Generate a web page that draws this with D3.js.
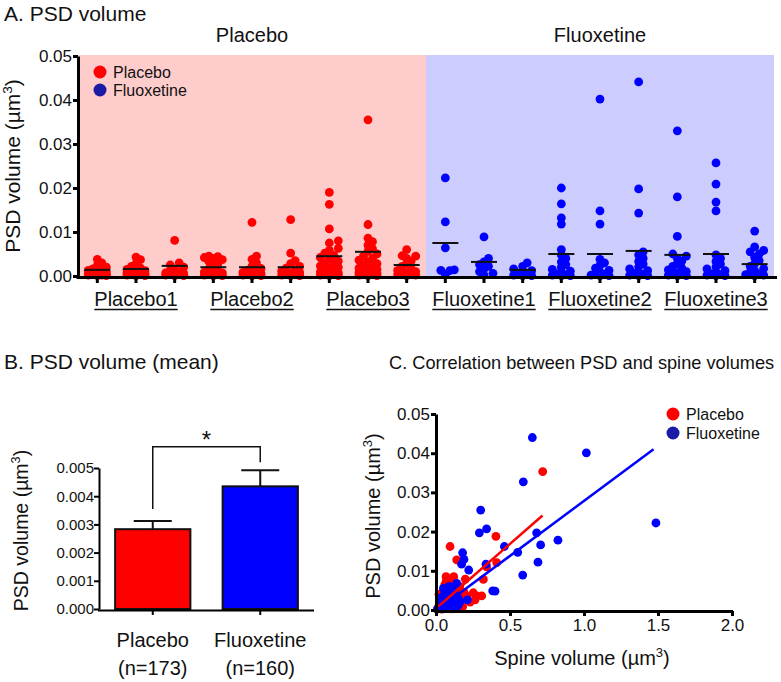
<!DOCTYPE html>
<html>
<head>
<meta charset="utf-8">
<script src="https://cdn.jsdelivr.net/npm/d3@7"></script>
<style>
body{margin:0;background:#fff;}
text{font-family:"Liberation Sans",Arial,Helvetica,sans-serif;fill:#111;}
</style>
</head>
<body>
<svg id="chart" width="781" height="682"></svg>
<script>
// ---------- DATA ----------
const columnNames = ["P1a","P1b","P1c","P2a","P2b","P2c","P3a","P3b","P3c",
                     "F1a","F1b","F1c","F2a","F2b","F2c","F3a","F3b","F3c"];
const groupLabels = ["Placebo1","Placebo2","Placebo3","Fluoxetine1","Fluoxetine2","Fluoxetine3"];
const treatmentLabels = ["Placebo","Fluoxetine"];
const yTicksA = [0,0.01,0.02,0.03,0.04,0.05];
const columnMeans = [0.0014,0.0016,0.0023,0.0020,0.0020,0.0020,0.0045,0.0055,0.0025,
                     0.0075,0.0032,0.0014,0.0050,0.0050,0.0057,0.0048,0.0050,0.0027];
const columnValues = [
 [0.0038,0.0030,0.0024,0.0020,0.0016,0.0013,0.0011,0.0009,0.0008,0.0006,0.0005,0.0004,0.0003,0.0002,0.0002,0.0001,0.0001,0.0003,0.0006,0.0012],
 [0.0043,0.0037,0.0028,0.0022,0.0018,0.0015,0.0012,0.0010,0.0008,0.0006,0.0005,0.0004,0.0003,0.0002,0.0001,0.0001,0.0004,0.0007],
 [0.0081,0.0030,0.0025,0.0020,0.0015,0.0012,0.0009,0.0007,0.0005,0.0004,0.0003,0.0002,0.0001,0.0001,0.0006],
 [0.0045,0.0044,0.0042,0.0040,0.0037,0.0033,0.0028,0.0022,0.0016,0.0012,0.0009,0.0007,0.0005,0.0003,0.0002,0.0001,0.0004,0.0001],
 [0.0122,0.0045,0.0038,0.0030,0.0022,0.0017,0.0013,0.0010,0.0008,0.0006,0.0004,0.0003,0.0002,0.0001,0.0001,0.0005],
 [0.0128,0.0052,0.0035,0.0028,0.0022,0.0018,0.0014,0.0011,0.0008,0.0006,0.0004,0.0003,0.0002,0.0001,0.0001],
 [0.0190,0.0163,0.0107,0.0080,0.0075,0.0063,0.0058,0.0052,0.0047,0.0042,0.0038,0.0034,0.0030,0.0027,0.0023,0.0020,0.0017,0.0014,0.0011,0.0009,0.0007,0.0005,0.0003,0.0002,0.0001,0.0001,0.0004],
 [0.0355,0.0117,0.0086,0.0078,0.0070,0.0062,0.0056,0.0050,0.0045,0.0040,0.0036,0.0032,0.0028,0.0024,0.0021,0.0018,0.0015,0.0012,0.0010,0.0008,0.0006,0.0004,0.0003,0.0002,0.0001,0.0001,0.0005,0.0009],
 [0.0060,0.0046,0.0045,0.0040,0.0034,0.0028,0.0022,0.0017,0.0013,0.0010,0.0007,0.0005,0.0003,0.0002,0.0001,0.0004],
 [0.0223,0.0123,0.0064,0.0014,0.0013,0.0012,0.0004],
 [0.0089,0.0040,0.0032,0.0026,0.0022,0.0016,0.0010,0.0006,0.0002],
 [0.0030,0.0022,0.0016,0.0012,0.0008,0.0005,0.0003,0.0002,0.0001,0.0001],
 [0.0200,0.0164,0.0132,0.0118,0.0060,0.0048,0.0040,0.0032,0.0026,0.0020,0.0015,0.0011,0.0008,0.0005,0.0003,0.0002,0.0001,0.0001],
 [0.0402,0.0148,0.0118,0.0038,0.0030,0.0024,0.0018,0.0013,0.0009,0.0006,0.0004,0.0002,0.0001,0.0001],
 [0.0441,0.0198,0.0143,0.0055,0.0048,0.0040,0.0033,0.0027,0.0021,0.0016,0.0012,0.0009,0.0006,0.0004,0.0002,0.0001,0.0001],
 [0.0330,0.0180,0.0090,0.0050,0.0045,0.0040,0.0034,0.0028,0.0022,0.0018,0.0014,0.0010,0.0007,0.0005,0.0003,0.0002,0.0001,0.0001],
 [0.0257,0.0209,0.0168,0.0148,0.0048,0.0040,0.0033,0.0027,0.0021,0.0016,0.0012,0.0008,0.0005,0.0003,0.0002,0.0001,0.0001],
 [0.0102,0.0066,0.0058,0.0055,0.0050,0.0042,0.0035,0.0028,0.0022,0.0017,0.0012,0.0008,0.0005,0.0003,0.0002,0.0001]
];

// Panel B
const barMeans = [0.00283, 0.00435];
const barSEM = [0.00029, 0.00057];
const barN = ["(n=173)", "(n=160)"];
const yTicksB = [0,0.001,0.002,0.003,0.004,0.005];
const bracketTop = 0.00575, bracketLeftEnd = 0.00355, bracketRightEnd = 0.0052;

// Panel C
const xTicksC = [0,0.5,1.0,1.5,2.0];
const yTicksC = [0,0.01,0.02,0.03,0.04,0.05];
const placeboSpine = [0.721,0.405,0.095,0.140,0.342,0.410,0.320,0.198,0.068,0.275,0.309,0.252,0.264,0.162,0.117,
 0.02,0.03,0.04,0.05,0.06,0.07,0.08,0.09,0.10,0.11,0.12,0.13,0.15,0.17,0.19,0.21,0.23,0.05,0.08,0.10,0.03,0.06,0.14,0.18,0.01,0.04,0.07,0.11,0.02,0.09,0.16,0.12,0.07];
const placeboPSD = [0.0353,0.0188,0.0162,0.0128,0.0110,0.0121,0.0078,0.0079,0.0085,0.0036,0.0036,0.0044,0.0026,0.0051,0.0068,
 0.001,0.002,0.0035,0.0045,0.003,0.005,0.006,0.004,0.0075,0.0055,0.003,0.002,0.0035,0.0025,0.0045,0.0035,0.002,0.0015,0.001,0.002,0.0005,0.0065,0.0012,0.0008,0.0002,0.0002,0.0005,0.0003,0.004,0.0028,0.006,0.0085,0.0075];
const fluoxSpine = [0.651,1.016,0.590,1.486,0.302,0.293,0.342,0.680,0.707,0.824,0.552,0.462,0.689,0.586,0.338,0.221,0.180,0.189,0.173,0.383,0.399,0.212,0.14,
 0.02,0.03,0.04,0.05,0.06,0.07,0.08,0.09,0.10,0.11,0.12,0.13,0.14,0.15,0.06,0.08,0.10,0.12,0.04,0.05,0.07,0.09,0.03,0.11,0.16,0.01,0.13,0.15,0.05,0.08];
const fluoxPSD = [0.0440,0.0401,0.0327,0.0222,0.0255,0.0197,0.0207,0.0197,0.0166,0.0178,0.0147,0.0162,0.0122,0.0089,0.0117,0.0102,0.0146,0.0129,0.0117,0.0049,0.0048,0.0026,0.0068,
 0.0005,0.0015,0.0025,0.0035,0.0045,0.003,0.002,0.0012,0.004,0.0055,0.0025,0.0015,0.001,0.003,0.0008,0.005,0.0008,0.0005,0.0004,0.002,0.0045,0.006,0.003,0.0018,0.002,0.0003,0.004,0.0012,0.0055,0.0035];
const placeboFit = [[0.01,0.0007],[0.72,0.0241]];
const fluoxFit = [[0.0,-0.0002],[1.47,0.0410]];

// ---------- COLOURS ----------
const RED = "#ff0000", BLUE = "#0000ff", NAVY = "#1a1aa6";
const FS_TITLE = 21, FS_LABEL = 20, FS_TICK_A = 17, FS_TICK_B = 15, FS_TICK_C = 17;

const svg = d3.select("#chart");
function sup(sel, base) {
  sel.html("");
  sel.append("tspan").text(base + " (µm");
  sel.append("tspan").attr("dy", -8).attr("font-size", "0.65em").text("3");
  sel.append("tspan").attr("dy", 8).text(")");
}

// ================= PANEL A =================
const xA = d3.scaleBand().domain(columnNames).range([78, 774]);
const yA = d3.scaleLinear().domain([0, 0.05]).range([276, 56]);

svg.append("rect").attr("x", xA("P1a")).attr("y", yA(0.05)-1)
  .attr("width", xA("F1a") - xA("P1a")).attr("height", yA(0) - yA(0.05) + 1).attr("fill", "#ffcccc");
svg.append("rect").attr("x", xA("F1a")).attr("y", yA(0.05)-1)
  .attr("width", 774 - xA("F1a")).attr("height", yA(0) - yA(0.05) + 1).attr("fill", "#ccccff");

svg.append("text").attr("x", 4).attr("y", 21).attr("font-size", FS_TITLE).text("A. PSD volume");
svg.append("text").attr("x", (xA("P1a") + xA("F1a")) / 2).attr("y", 42).attr("text-anchor", "middle").attr("font-size", FS_LABEL).text("Placebo");
svg.append("text").attr("x", (xA("F1a") + 774) / 2).attr("y", 42).attr("text-anchor", "middle").attr("font-size", FS_LABEL).text("Fluoxetine");

// beeswarm
function swarm(vals, cx, yScale, r, step, maxOff) {
  const placed = [];
  const sorted = vals.slice().sort((a, b) => a - b);
  sorted.forEach(v => {
    const py = yScale(v);
    let best = 0;
    const cands = [0];
    for (let k = 1; k * step <= maxOff; k++) { cands.push(k * step, -k * step); }
    let ok = false;
    for (const off of cands) {
      if (placed.every(p => Math.hypot(p.x - (cx + off), p.y - py) >= r * 1.2)) { best = off; ok = true; break; }
    }
    if (!ok) {
      let bestD = -1;
      for (const off of cands) {
        const d = d3.min(placed, p => Math.hypot(p.x - (cx + off), p.y - py));
        if (d > bestD) { bestD = d; best = off; }
      }
    }
    placed.push({ x: cx + best, y: py });
  });
  return placed;
}

const gA = svg.append("g");
columnNames.forEach((c, i) => {
  const cx = xA(c) + xA.bandwidth() / 2;
  const pts = swarm(columnValues[i], cx, yA, 4.3, 4.5, 10);
  gA.selectAll(null).data(pts).enter().append("circle")
    .attr("cx", d => d.x).attr("cy", d => d.y).attr("r", 4.4)
    .attr("fill", i < 9 ? RED : BLUE);
  gA.append("line").attr("x1", cx - 13).attr("x2", cx + 13)
    .attr("y1", yA(columnMeans[i])).attr("y2", yA(columnMeans[i]))
    .attr("stroke", "#111").attr("stroke-width", 2);
});

const axA = svg.append("g").attr("transform", "translate(78,0)")
  .call(d3.axisLeft(yA).tickValues(yTicksA).tickFormat(d3.format(".2f")).tickSize(5).tickSizeOuter(0));
axA.select(".domain").attr("stroke-width", 3);
axA.selectAll(".tick line").attr("stroke-width", 3);
axA.selectAll(".tick text").attr("font-size", FS_TICK_A).attr("x", -6).attr("font-family", "Liberation Sans, Arial, sans-serif");

const axAx = svg.append("g").attr("transform", "translate(0,277)")
  .call(d3.axisBottom(xA).tickSize(6).tickSizeOuter(0).tickFormat(""));
axAx.select(".domain").attr("stroke-width", 3).attr("d", "M76.5,0.5H777");
axAx.selectAll(".tick line").attr("stroke-width", 3);

svg.append("text").attr("transform", `translate(20,${(yA(0) + yA(0.05)) / 2}) rotate(-90)`)
  .attr("text-anchor", "middle").attr("font-size", FS_TITLE).call(sup, "PSD volume");

groupLabels.forEach((g, i) => {
  const cx = xA(columnNames[i * 3 + 1]) + xA.bandwidth() / 2;
  const t = svg.append("text").attr("x", cx).attr("y", 306).attr("text-anchor", "middle").attr("font-size", FS_LABEL).text(g);
  const w = t.node().getComputedTextLength();
  svg.append("line").attr("x1", cx - w / 2).attr("x2", cx + w / 2).attr("y1", 309.5).attr("y2", 309.5)
    .attr("stroke", "#111").attr("stroke-width", 1.4);
});

// legend A
const legA = svg.append("g");
[["Placebo", RED], ["Fluoxetine", NAVY]].forEach((d, i) => {
  legA.append("circle").attr("cx", 100).attr("cy", 72 + i * 18).attr("r", 6.5).attr("fill", d[1]);
  legA.append("text").attr("x", 113).attr("y", 77.5 + i * 18).attr("font-size", 16).text(d[0]);
});

// ================= PANEL B =================
svg.append("text").attr("x", 4).attr("y", 369).attr("font-size", FS_TITLE).text("B. PSD volume (mean)");
const xB = d3.scaleBand().domain(treatmentLabels).range([99, 314]).paddingInner(0.3).paddingOuter(0.15);
const yB = d3.scaleLinear().domain([0, 0.005]).range([609, 468]);

svg.selectAll(".barB").data(treatmentLabels).enter().append("rect")
  .attr("x", d => xB(d)).attr("width", xB.bandwidth())
  .attr("y", (d, i) => yB(barMeans[i])).attr("height", (d, i) => yB(0) - yB(barMeans[i]))
  .attr("fill", (d, i) => i === 0 ? RED : BLUE).attr("stroke", "#111").attr("stroke-width", 2);

treatmentLabels.forEach((d, i) => {
  const cx = xB(d) + xB.bandwidth() / 2;
  svg.append("line").attr("x1", cx).attr("x2", cx).attr("y1", yB(barMeans[i])).attr("y2", yB(barMeans[i] + barSEM[i]))
    .attr("stroke", "#111").attr("stroke-width", 2);
  svg.append("line").attr("x1", cx - 19).attr("x2", cx + 19).attr("y1", yB(barMeans[i] + barSEM[i])).attr("y2", yB(barMeans[i] + barSEM[i]))
    .attr("stroke", "#111").attr("stroke-width", 2);
  svg.append("text").attr("x", cx).attr("y", 647).attr("text-anchor", "middle").attr("font-size", FS_LABEL).text(d);
  svg.append("text").attr("x", cx).attr("y", 675).attr("text-anchor", "middle").attr("font-size", FS_LABEL).text(barN[i]);
});

const axB = svg.append("g").attr("transform", "translate(99,0)")
  .call(d3.axisLeft(yB).tickValues(yTicksB).tickFormat(d3.format(".3f")).tickSize(5).tickSizeOuter(0));
axB.select(".domain").attr("stroke-width", 2);
axB.selectAll(".tick line").attr("stroke-width", 2);
axB.selectAll(".tick text").attr("font-size", FS_TICK_B).attr("x", -5).attr("font-family", "Liberation Sans, Arial, sans-serif");
const axBx = svg.append("g").attr("transform", "translate(0,610)")
  .call(d3.axisBottom(xB).tickSize(5).tickSizeOuter(0).tickFormat(""));
axBx.select(".domain").attr("stroke-width", 2).attr("d", "M98,0.5H314");
axBx.selectAll(".tick line").attr("stroke-width", 2);

// significance bracket
const c0 = xB(treatmentLabels[0]) + xB.bandwidth() / 2, c1 = xB(treatmentLabels[1]) + xB.bandwidth() / 2;
svg.append("path").attr("d", `M${c0},${yB(bracketLeftEnd)}V${yB(bracketTop)}H${c1}V${yB(bracketRightEnd)}`)
  .attr("fill", "none").attr("stroke", "#111").attr("stroke-width", 1.5);
svg.append("text").attr("x", (c0 + c1) / 2).attr("y", yB(bracketTop) + 1).attr("text-anchor", "middle").attr("font-size", 24).text("*");

svg.append("text").attr("transform", `translate(28,${(yB(0) + yB(0.005)) / 2 - 8}) rotate(-90)`)
  .attr("text-anchor", "middle").attr("font-size", 19.5).call(sup, "PSD volume");

// ================= PANEL C =================
svg.append("text").attr("x", 389).attr("y", 369).attr("font-size", 18.2).text("C. Correlation between PSD and spine volumes");
const xC = d3.scaleLinear().domain([0, 2]).range([436, 732]);
const yC = d3.scaleLinear().domain([0, 0.05]).range([610, 414]);

const gC = svg.append("g");
gC.selectAll(".pp").data(placeboSpine).enter().append("circle")
  .attr("cx", d => xC(d)).attr("cy", (d, i) => yC(placeboPSD[i])).attr("r", 4.4).attr("fill", RED);
gC.selectAll(".fp").data(fluoxSpine).enter().append("circle")
  .attr("cx", d => xC(d)).attr("cy", (d, i) => yC(fluoxPSD[i])).attr("r", 4.4).attr("fill", BLUE);

const lineC = d3.line().x(d => xC(d[0])).y(d => yC(d[1]));
gC.append("path").attr("d", lineC(placeboFit)).attr("stroke", RED).attr("stroke-width", 2.5).attr("fill", "none");
gC.append("path").attr("d", lineC(fluoxFit)).attr("stroke", BLUE).attr("stroke-width", 2.5).attr("fill", "none");

const axC = svg.append("g").attr("transform", "translate(436,0)")
  .call(d3.axisLeft(yC).tickValues(yTicksC).tickFormat(d3.format(".2f")).tickSize(5).tickSizeOuter(0));
axC.select(".domain").attr("stroke-width", 3);
axC.selectAll(".tick line").attr("stroke-width", 3);
axC.selectAll(".tick text").attr("font-size", FS_TICK_C).attr("x", -6).attr("font-family", "Liberation Sans, Arial, sans-serif");
const axCx = svg.append("g").attr("transform", "translate(0,611)")
  .call(d3.axisBottom(xC).tickValues(xTicksC).tickFormat(d3.format(".1f")).tickSize(5).tickSizeOuter(0));
axCx.select(".domain").attr("stroke-width", 3).attr("d", "M434.5,0.5H733");
axCx.selectAll(".tick text").attr("font-size", FS_TICK_C).attr("y", 8).attr("font-family", "Liberation Sans, Arial, sans-serif");
axCx.selectAll(".tick line").attr("stroke-width", 3);

svg.append("text").attr("transform", `translate(380,${(yC(0) + yC(0.05)) / 2 + 4}) rotate(-90)`)
  .attr("text-anchor", "middle").attr("font-size", FS_LABEL).call(sup, "PSD volume");
svg.append("text").attr("x", (xC(0) + xC(2)) / 2 - 2).attr("y", 665).attr("text-anchor", "middle").attr("font-size", FS_LABEL)
  .call(sup, "Spine volume");

const legC = svg.append("g");
[["Placebo", RED], ["Fluoxetine", NAVY]].forEach((d, i) => {
  legC.append("circle").attr("cx", 673).attr("cy", 414 + i * 19).attr("r", 6.5).attr("fill", d[1]);
  legC.append("text").attr("x", 686).attr("y", 419.5 + i * 19).attr("font-size", 16).text(d[0]);
});
</script>
</body>
</html>
